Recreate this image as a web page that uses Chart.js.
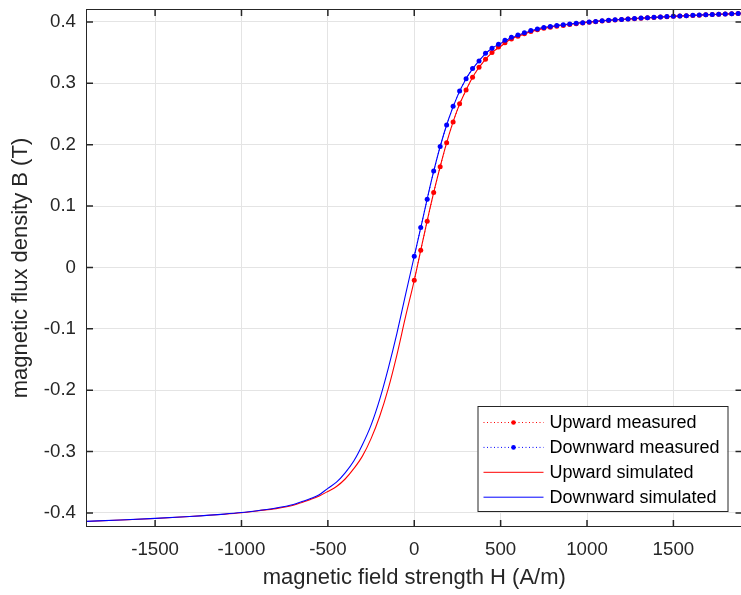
<!DOCTYPE html>
<html>
<head>
<meta charset="utf-8">
<script src="https://cdn.jsdelivr.net/npm/chart.js@4"></script>
<style>
html,body{margin:0;padding:0;overflow:hidden;background:#fff;}
#wrap{width:745px;height:595px;}
</style>
</head>
<body>
<div id="wrap"><canvas id="c" width="745" height="595"></canvas></div>
<script>
// ---- data ----
const measuredH = [0,37.5,75,112.5,150,187.5,225,262.5,300,337.5,375,412.5,450,487.5,525,562.5,600,637.5,675,712.5,750,787.5,825,862.5,900,937.5,975,1012.5,1050,1087.5,1125,1162.5,1200,1237.5,1275,1312.5,1350,1387.5,1425,1462.5,1500,1537.5,1575,1612.5,1650,1687.5,1725,1762.5,1800,1837.5,1875];
const upMeasuredB = [-0.021,0.028,0.075,0.122,0.164,0.203,0.237,0.2667,0.289,0.31,0.326,0.339,0.350,0.359,0.366,0.372,0.3767,0.3805,0.3843,0.387,0.3895,0.3912,0.3928,0.3943,0.3957,0.397,0.3982,0.3993,0.4003,0.4013,0.4022,0.403,0.4038,0.4046,0.4053,0.406,0.4066,0.4072,0.4078,0.4084,0.409,0.4095,0.41,0.4105,0.411,0.4115,0.4119,0.4124,0.4128,0.4132,0.4136];
const downMeasuredB = [0.018,0.065,0.111,0.157,0.197,0.232,0.2625,0.2875,0.3075,0.324,0.3364,0.349,0.357,0.3636,0.370,0.375,0.3787,0.3825,0.386,0.3885,0.391,0.3925,0.394,0.3953,0.3965,0.3977,0.3988,0.3998,0.4008,0.4017,0.4025,0.4033,0.404,0.4048,0.4055,0.4062,0.4068,0.4074,0.408,0.4086,0.4092,0.4097,0.4102,0.4107,0.4112,0.4117,0.4121,0.4126,0.413,0.4134,0.4138];
const simH = [-1900,-1700,-1500,-1300,-1100,-1000,-900,-800,-700,-650,-600,-550,-500,-450,-400,-350,-300,-250,-200,-150,-100,-50,0,50,100,150,200,250,300,350,400,450,500,550,600,650,700,800,900,1000,1100,1300,1500,1700,1900];
const upSimB = [-0.414,-0.4117,-0.4092,-0.406,-0.4022,-0.3998,-0.3965,-0.393,-0.3877,-0.383,-0.3781,-0.3724,-0.365,-0.357,-0.3448,-0.328,-0.3075,-0.279,-0.2425,-0.197,-0.142,-0.080,-0.021,0.044,0.107,0.164,0.215,0.257,0.289,0.3155,0.3348,0.350,0.360,0.3705,0.3767,0.3815,0.3862,0.392,0.396,0.3995,0.402,0.4058,0.409,0.4116,0.4138];
const downSimB = [-0.4138,-0.4116,-0.409,-0.4058,-0.402,-0.3995,-0.396,-0.392,-0.3862,-0.3815,-0.3767,-0.3705,-0.360,-0.350,-0.3348,-0.3155,-0.289,-0.257,-0.215,-0.164,-0.107,-0.044,0.018,0.080,0.142,0.197,0.2425,0.279,0.3075,0.328,0.3448,0.357,0.365,0.3724,0.3781,0.383,0.3877,0.393,0.3965,0.3998,0.4022,0.406,0.4092,0.4117,0.414];
const seriesLabels = ['Upward measured','Downward measured','Upward simulated','Downward simulated'];
const xTicks = [-1500,-1000,-500,0,500,1000,1500];
const xTickLabels = ['-1500','-1000','-500','0','500','1000','1500'];
const yTicks = [-0.4,-0.3,-0.2,-0.1,0,0.1,0.2,0.3,0.4];
const yTickLabels = ['-0.4','-0.3','-0.2','-0.1','0','0.1','0.2','0.3','0.4'];
const xTitle = 'magnetic field strength H (A/m)';
const yTitle = 'magnetic flux density B (T)';

const pts = (xs, ys) => xs.map((x, i) => ({x: x, y: ys[i]}));
const FONT = "'Liberation Sans', Arial, sans-serif";
const AXIS = '#262626';

const boxPlugin = {
  id: 'matlabBox',
  afterDraw(chart) {
    const {ctx, chartArea: a, scales} = chart;
    ctx.save();
    ctx.strokeStyle = AXIS;
    ctx.lineWidth = 1;
    ctx.strokeRect(a.left + 0.5, a.top + 0.5, a.right - a.left - 1, a.bottom - a.top - 1);
    ctx.lineWidth = 1.5;
    const L = 7;
    ctx.beginPath();
    scales.x.ticks.forEach(t => {
      const px = scales.x.getPixelForValue(t.value);
      ctx.moveTo(px, a.bottom); ctx.lineTo(px, a.bottom - L);
      ctx.moveTo(px, a.top); ctx.lineTo(px, a.top + L);
    });
    scales.y.ticks.forEach(t => {
      const py = scales.y.getPixelForValue(t.value);
      ctx.moveTo(a.left, py); ctx.lineTo(a.left + L, py);
      ctx.moveTo(a.right, py); ctx.lineTo(a.right - L, py);
    });
    ctx.stroke();
    ctx.restore();
  }
};

const legendPlugin = {
  id: 'matlabLegend',
  afterDraw(chart) {
    const {ctx, chartArea: a} = chart;
    const w = 250, h = 105;
    const x0 = a.right - 265, y0 = a.bottom - 121;
    ctx.save();
    ctx.fillStyle = '#fff';
    ctx.fillRect(x0, y0, w, h);
    ctx.strokeStyle = AXIS;
    ctx.lineWidth = 1;
    ctx.strokeRect(x0 + 0.5, y0 + 0.5, w, h);
    ctx.font = '18px ' + FONT;
    ctx.textBaseline = 'middle';
    ctx.textAlign = 'left';
    chart.data.datasets.forEach((ds, i) => {
      const cy = y0 + 16.5 + i * 24.9;
      ctx.strokeStyle = ds.borderColor;
      ctx.lineWidth = 1;
      ctx.setLineDash(ds.borderDash || []);
      ctx.beginPath();
      ctx.moveTo(x0 + 6, cy); ctx.lineTo(x0 + 66, cy);
      ctx.stroke();
      ctx.setLineDash([]);
      if (ds.pointRadius > 0) {
        ctx.fillStyle = ds.pointBackgroundColor;
        ctx.beginPath();
        ctx.arc(x0 + 36, cy, 2.3, 0, Math.PI * 2);
        ctx.fill();
      }
      ctx.fillStyle = '#000';
      ctx.fillText(ds.label, x0 + 72, cy + 1);
    });
    ctx.restore();
  }
};

new Chart(document.getElementById('c'), {
  type: 'scatter',
  data: {
    datasets: [
      {label: seriesLabels[0], order: 1, data: pts(measuredH, upMeasuredB), showLine: true, borderColor: '#ff0000', borderWidth: 1, borderDash: [1, 2.5], pointRadius: 2.5, pointBackgroundColor: '#ff0000', pointBorderWidth: 0, pointHoverRadius: 2.5},
      {label: seriesLabels[1], order: 0, data: pts(measuredH, downMeasuredB), showLine: true, borderColor: '#0000ff', borderWidth: 1, borderDash: [1, 2.5], pointRadius: 2.5, pointBackgroundColor: '#0000ff', pointBorderWidth: 0, pointHoverRadius: 2.5},
      {label: seriesLabels[2], order: 3, data: pts(simH, upSimB), showLine: true, borderColor: '#ff0000', borderWidth: 1.1, pointRadius: 0, cubicInterpolationMode: 'monotone'},
      {label: seriesLabels[3], order: 2, data: pts(simH, downSimB), showLine: true, borderColor: '#0000ff', borderWidth: 1.1, pointRadius: 0, cubicInterpolationMode: 'monotone'}
    ]
  },
  options: {
    responsive: false,
    animation: false,
    devicePixelRatio: 1,
    layout: {padding: {top: 9, right: 1, bottom: 0, left: 0}},
    plugins: {legend: {display: false}, tooltip: {enabled: false}},
    scales: {
      x: {
        type: 'linear', min: -1900, max: 1900,
        afterBuildTicks: s => { s.ticks = xTicks.map(v => ({value: v})); },
        afterFit: s => { s.height = 68; s.paddingLeft = 0; s.paddingRight = 0; },
        grid: {color: '#e4e4e4', lineWidth: 1, drawTicks: false},
        border: {display: false},
        ticks: {color: AXIS, font: {family: FONT, size: 18.7}, padding: 12, maxRotation: 0,
          callback: (v, i) => xTickLabels[i]},
        title: {display: true, text: xTitle, color: AXIS, font: {family: FONT, size: 22}, padding: {top: 0, bottom: 4}}
      },
      y: {
        type: 'linear', min: -0.423, max: 0.421,
        afterBuildTicks: s => { s.ticks = yTicks.map(v => ({value: v})); },
        afterFit: s => { s.width = 86; s.paddingTop = 0; s.paddingBottom = 0; },
        grid: {color: '#e4e4e4', lineWidth: 1, drawTicks: false},
        border: {display: false},
        ticks: {color: AXIS, font: {family: FONT, size: 18.7}, padding: 10,
          callback: (v, i) => yTickLabels[i]},
        title: {display: true, text: yTitle, color: AXIS, font: {family: FONT, size: 22}, padding: {top: 8, bottom: 0}}
      }
    }
  },
  plugins: [boxPlugin, legendPlugin]
});
</script>
</body>
</html>
